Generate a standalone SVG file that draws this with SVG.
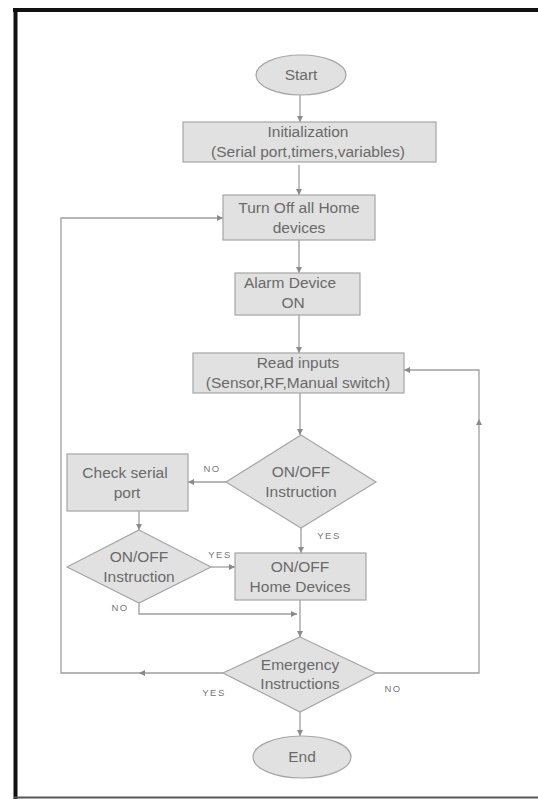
<svg xmlns="http://www.w3.org/2000/svg" width="538" height="799" viewBox="0 0 538 799">
<defs>
<style>
.box{fill:#e1e1e1;stroke:#a6a6a6;stroke-width:1.2}
.t{font-family:"Liberation Sans",Arial,sans-serif;font-size:15.5px;fill:#6a6a6a;text-anchor:middle}
.l{font-family:"Liberation Sans",Arial,sans-serif;font-size:9.5px;fill:#777;text-anchor:middle;letter-spacing:1.5px}
.c{fill:none;stroke:#9e9e9e;stroke-width:1.3}
</style>
<marker id="ah" markerWidth="7" markerHeight="7" refX="6" refY="3.5" orient="auto" markerUnits="userSpaceOnUse">
<path d="M0,0.5 L6,3.5 L0,6.5 Z" fill="#8a8a8a"/>
</marker>
</defs>
<rect width="538" height="799" fill="#fff"/>
<g id="frame">
<line x1="13" y1="10" x2="538" y2="10" stroke="#111" stroke-width="4"/>
<line x1="15.5" y1="8" x2="15.5" y2="799" stroke="#111" stroke-width="4"/>
<line x1="14" y1="797.5" x2="538" y2="797.5" stroke="#555" stroke-width="2"/>
</g>
<g id="connectors">
<path class="c" d="M300,95 V122" marker-end="url(#ah)"/>
<path class="c" d="M299,165 V195" marker-end="url(#ah)"/>
<path class="c" d="M299,240 V273" marker-end="url(#ah)"/>
<path class="c" d="M299,315 V353" marker-end="url(#ah)"/>
<path class="c" d="M300,393 V435" marker-end="url(#ah)"/>
<path class="c" d="M226,482 H188" marker-end="url(#ah)"/>
<path class="c" d="M139,511 V530" marker-end="url(#ah)"/>
<path class="c" d="M301,528 V553" marker-end="url(#ah)"/>
<path class="c" d="M211,567 H235" marker-end="url(#ah)"/>
<path class="c" d="M139,603 V614 H297" marker-end="url(#ah)"/>
<path class="c" d="M300,600 V637" marker-end="url(#ah)"/>
<path class="c" d="M300,712 V736" marker-end="url(#ah)"/>
<path class="c" d="M223,673 H139" marker-end="url(#ah)"/>
<path class="c" d="M139,673 H61 V218 H223" marker-end="url(#ah)"/>
<path class="c" d="M376,673 H479 V419" marker-end="url(#ah)"/>
<path class="c" d="M479,419 V370 H404" marker-end="url(#ah)"/>
</g>
<g id="start">
<ellipse class="box" cx="301" cy="75" rx="45" ry="20"/>
<text class="t" x="301" y="80">Start</text>
</g>
<g id="init">
<rect class="box" x="183" y="122" width="253" height="40"/>
<text class="t" x="308" y="137">Initialization</text>
<text class="t" x="308" y="157">(Serial port,timers,variables)</text>
</g>
<g id="turnoff">
<rect class="box" x="223" y="195" width="152" height="45"/>
<text class="t" x="299" y="213">Turn Off all Home</text>
<text class="t" x="299" y="233">devices</text>
</g>
<g id="alarm">
<rect class="box" x="235" y="273" width="125" height="42"/>
<text class="t" x="290" y="288">Alarm Device</text>
<text class="t" x="293" y="308">ON</text>
</g>
<g id="read">
<rect class="box" x="193" y="353" width="211" height="40"/>
<text class="t" x="298" y="368">Read inputs</text>
<text class="t" x="298" y="388">(Sensor,RF,Manual switch)</text>
</g>
<g id="dec1">
<polygon class="box" points="301,435 376,482 301,528 226,482"/>
<text class="t" x="301" y="477">ON/OFF</text>
<text class="t" x="301" y="497">Instruction</text>
</g>
<g id="check">
<rect class="box" x="67" y="454" width="121" height="57"/>
<text class="t" x="125" y="478">Check serial</text>
<text class="t" x="127" y="498">port</text>
</g>
<g id="dec2">
<polygon class="box" points="139,530 211,567 139,603 67,567"/>
<text class="t" x="139" y="562">ON/OFF</text>
<text class="t" x="139" y="582">Instruction</text>
</g>
<g id="home">
<rect class="box" x="235" y="553" width="131" height="47"/>
<text class="t" x="300" y="572">ON/OFF</text>
<text class="t" x="300" y="592">Home Devices</text>
</g>
<g id="emergency">
<polygon class="box" points="300,637 376,673 300,712 223,673"/>
<text class="t" x="300" y="670">Emergency</text>
<text class="t" x="300" y="689">Instructions</text>
</g>
<g id="end">
<ellipse class="box" cx="302" cy="757" rx="49" ry="21"/>
<text class="t" x="302" y="762">End</text>
</g>
<g id="labels">
<text class="l" x="212" y="472">NO</text>
<text class="l" x="329" y="539">YES</text>
<text class="l" x="220" y="558">YES</text>
<text class="l" x="120" y="611">NO</text>
<text class="l" x="214" y="696">YES</text>
<text class="l" x="393" y="692">NO</text>
</g>
</svg>
